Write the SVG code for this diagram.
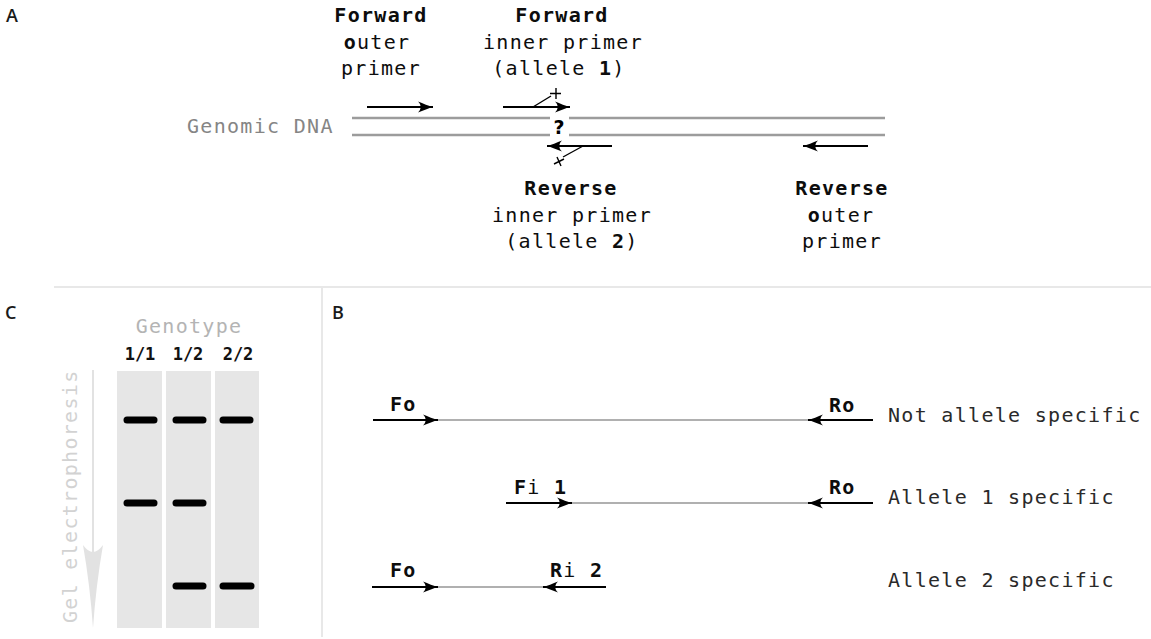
<svg xmlns="http://www.w3.org/2000/svg" width="1151" height="639" viewBox="0 0 1151 639">
<style>
.t{font-family:"DejaVu Sans Mono",monospace;font-size:20px;letter-spacing:1.3px;fill:#0d0d0d}
.b{font-weight:bold}
.c{text-anchor:middle}
.g{fill:#858585}
.r{fill:#2a2a2a}
.lbl{font-family:"Open Sans","DejaVu Sans",sans-serif;font-size:18px;font-weight:600;fill:#1a1a1a}
.dna{stroke:#9c9c9c;stroke-width:2.5;fill:none}
.pr{stroke:#000;stroke-width:2;fill:none}
.amp{stroke:#b0b0b0;stroke-width:2;fill:none}
.thin{stroke:#000;stroke-width:1.4;fill:none}
.lane{fill:#e6e6e6}
.band{stroke:#000;stroke-width:7;stroke-linecap:round}
.div{stroke:#e8e8e8;stroke-width:2}
.gt{font-family:"DejaVu Sans Mono",monospace;font-weight:bold;font-size:17px;fill:#111;text-anchor:middle}
</style>
<defs>
<marker id="ah" markerUnits="userSpaceOnUse" markerWidth="18" markerHeight="14" refX="16" refY="7" orient="auto" viewBox="0 0 18 14">
<path d="M16,7 C12,6 6,3.5 1,1.5 C4.5,4.5 4.5,9.5 1,12.5 C6,10.5 12,8 16,7 Z" fill="#000"/>
</marker>
</defs>

<!-- panel labels -->
<g id="panel-labels">
<text class="lbl" x="6" y="22">A</text>
<text class="lbl" x="332" y="319">B</text>
<text class="lbl" x="5" y="319">C</text>
</g>

<!-- dividers -->
<g id="dividers">
<line class="div" x1="54" y1="287" x2="1151" y2="287"/>
<line class="div" x1="322" y1="287" x2="322" y2="637"/>
</g>

<!-- Panel A -->
<g id="genomic-dna">
<text class="t g" x="187" y="133">Genomic DNA</text>
<line class="dna" x1="352" y1="118" x2="550" y2="118"/>
<line class="dna" x1="569" y1="118" x2="885" y2="118"/>
<line class="dna" x1="352" y1="135" x2="550" y2="135"/>
<line class="dna" x1="569" y1="135" x2="885" y2="135"/>
<text x="559" y="134" text-anchor="middle" style="font-family:'DejaVu Sans',sans-serif;font-weight:bold;font-size:19px;fill:#000">?</text>
</g>

<g id="label-fo">
<text class="t c b" x="381" y="22">Forward</text>
<text class="t c" x="377" y="49"><tspan class="b">o</tspan>uter</text>
<text class="t c" x="381" y="75">primer</text>
</g>
<g id="label-fi">
<text class="t c b" x="562" y="22">Forward</text>
<text class="t c" x="563" y="49">inner primer</text>
<text class="t c" x="559" y="75">(allele <tspan class="b">1</tspan>)</text>
</g>
<g id="label-ri">
<text class="t c b" x="571" y="195">Reverse</text>
<text class="t c" x="572" y="222">inner primer</text>
<text class="t c" x="572" y="248">(allele <tspan class="b">2</tspan>)</text>
</g>
<g id="label-ro">
<text class="t c b" x="842" y="195">Reverse</text>
<text class="t c" x="841" y="222"><tspan class="b">o</tspan>uter</text>
<text class="t c" x="842" y="248">primer</text>
</g>

<g id="connectors">
<!-- panel A primers -->
<line class="pr" x1="367" y1="107" x2="433" y2="107" marker-end="url(#ah)"/>
<line class="pr" x1="503" y1="107" x2="570" y2="107" marker-end="url(#ah)"/>
<line class="pr" x1="612" y1="146" x2="547" y2="146" marker-end="url(#ah)"/>
<line class="pr" x1="868" y1="146" x2="803" y2="146" marker-end="url(#ah)"/>
<!-- mismatch tails -->
<line class="thin" x1="533" y1="107" x2="551" y2="96"/>
<path class="thin" d="M550,93.5 H561 M556,88 V99"/>
<line class="thin" x1="583" y1="146" x2="563" y2="157"/>
<path class="thin" d="M554,164 L564,159 M557,157 L561,166"/>

<!-- panel B -->
<line class="pr" x1="373" y1="420" x2="438" y2="420" marker-end="url(#ah)"/>
<line class="amp" x1="438" y1="420" x2="808" y2="420"/>
<line class="pr" x1="873" y1="420" x2="808" y2="420" marker-end="url(#ah)"/>

<line class="pr" x1="506" y1="503" x2="572" y2="503" marker-end="url(#ah)"/>
<line class="amp" x1="572" y1="503" x2="808" y2="503"/>
<line class="pr" x1="873" y1="503" x2="808" y2="503" marker-end="url(#ah)"/>

<line class="pr" x1="372" y1="587" x2="438" y2="587" marker-end="url(#ah)"/>
<line class="amp" x1="438" y1="587" x2="543" y2="587"/>
<line class="pr" x1="606" y1="587" x2="543" y2="587" marker-end="url(#ah)"/>
</g>

<!-- Panel B labels -->
<g id="b-row1">
<text class="t b" x="390" y="411">Fo</text>
<text class="t b" x="829" y="412">Ro</text>
<text class="t r" x="888" y="422">Not allele specific</text>
</g>
<g id="b-row2">
<text class="t" x="514" y="494"><tspan class="b">F</tspan>i <tspan class="b">1</tspan></text>
<text class="t b" x="829" y="494">Ro</text>
<text class="t r" x="888" y="504">Allele 1 specific</text>
</g>
<g id="b-row3">
<text class="t b" x="390" y="577">Fo</text>
<text class="t" x="550" y="577"><tspan class="b">R</tspan>i <tspan class="b">2</tspan></text>
<text class="t r" x="888" y="587">Allele 2 specific</text>
</g>

<!-- Panel C -->
<g id="gel">
<text class="t c" x="189" y="333" style="fill:#b4b4b4">Genotype</text>
<text class="gt" x="140" y="360">1/1</text>
<text class="gt" x="188" y="360">1/2</text>
<text class="gt" x="238" y="360">2/2</text>
<rect class="lane" x="117" y="371" width="45" height="257"/>
<rect class="lane" x="166" y="371" width="45" height="257"/>
<rect class="lane" x="215" y="371" width="44" height="257"/>
<line class="band" x1="127" y1="420" x2="154" y2="420"/>
<line class="band" x1="176" y1="420" x2="203" y2="420"/>
<line class="band" x1="223" y1="420" x2="250" y2="420"/>
<line class="band" x1="127" y1="503" x2="154" y2="503"/>
<line class="band" x1="176" y1="503" x2="203" y2="503"/>
<line class="band" x1="176" y1="586" x2="203" y2="586"/>
<line class="band" x1="223" y1="586" x2="251" y2="586"/>
<line x1="93" y1="370" x2="93" y2="600" style="stroke:#e2e2e2;stroke-width:2"/>
<path d="M83,545 Q93,559 103,545 Q96,585 93,628 Q90,585 83,545 Z" style="fill:#e2e2e2"/>
<text class="t" transform="translate(77,623) rotate(-90)" style="fill:#d2d2d2">Gel electrophoresis</text>
</g>
</svg>
